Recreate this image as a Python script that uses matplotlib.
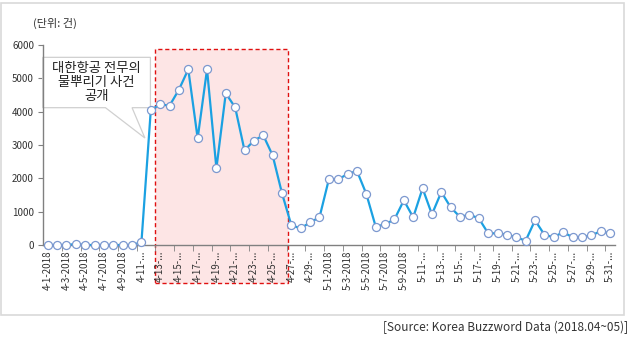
import matplotlib
matplotlib.use('Agg')
import matplotlib.pyplot as plt
from matplotlib.patches import Rectangle, Polygon

plt.rcParams['font.family'] = ['Noto Sans CJK KR', 'DejaVu Sans']

# daily buzz counts, 2018-04-01 .. 2018-05-31
april = [0, 0, 0, 30, 0, 0, 0, 0, 0, 0,
         80, 4050, 4220, 4180, 4660, 5270, 3200, 5270, 2300, 4550,
         4130, 2840, 3130, 3290, 2690, 1550, 590, 500, 680, 830]
may = [1970, 1970, 2130, 2220, 1530, 550, 620, 770, 1340, 830,
       1700, 920, 1590, 1130, 840, 910, 800, 350, 350, 310,
       230, 130, 740, 310, 230, 390, 230, 230, 290, 410, 350]
values = april + may

tick_labels = ['4-1-2018', '4-3-2018', '4-5-2018', '4-7-2018', '4-9-2018',
               '4-11-...', '4-13-...', '4-15-...', '4-17-...', '4-19-...',
               '4-21-...', '4-23-...', '4-25-...', '4-27-...', '4-29-...',
               '5-1-2018', '5-3-2018', '5-5-2018', '5-7-2018', '5-9-2018',
               '5-11-...', '5-13-...', '5-15-...', '5-17-...', '5-19-...',
               '5-21-...', '5-23-...', '5-25-...', '5-27-...', '5-29-...',
               '5-31-...']

callout_text = '대한항공 전무의\n물뿌리기 사건\n공개'
unit_text = '(단위: 건)'
source_text = '[Source: Korea Buzzword Data (2018.04~05)]'

x = list(range(len(values)))

fig = plt.figure(figsize=(6.3, 3.42), dpi=100)
ax = fig.add_axes([0.0683, 0.2836, 0.9074, 0.5848])

# outer frame
fig.patches.append(Rectangle((0.002, 1 - 315 / 342), 623 / 630, 312 / 342,
                             transform=fig.transFigure, fill=False,
                             edgecolor='#d9d9d9', linewidth=1.2))

# highlighted period
ax.add_patch(Rectangle((11.42, -1150), 25.69 - 11.42, 5870 + 1150,
                       facecolor='#fde5e5', edgecolor='#e01010',
                       linestyle=(0, (3, 2)), linewidth=1.0,
                       clip_on=False, zorder=0))

ax.plot(x, values, color='#1ba1e2', linewidth=1.6, marker='o',
        markersize=5.8, markerfacecolor='white', markeredgecolor='#7c98cf',
        markeredgewidth=0.9, zorder=3, clip_on=False)

# callout box with pointer
ax.add_patch(Polygon([(-0.53, 5630), (10.96, 5630), (10.96, 4120), (9.0, 4120),
                      (10.37, 3210), (6.16, 4120), (-0.53, 4120)],
                     closed=True, facecolor='white', edgecolor='#d0d0d0',
                     linewidth=0.9, clip_on=False, zorder=2))
ax.text(5.2, 4880, callout_text, ha='center', va='center', fontsize=9.6,
        linespacing=1.0, color='#222222', zorder=4)

ax.set_xlim(-0.5, len(values) - 0.5)
ax.set_ylim(0, 6000)
ax.set_yticks(range(0, 6001, 1000))
ax.tick_params(axis='y', labelsize=7, length=3.5, color='#808080',
               labelcolor='#333333', pad=3)

ax.set_xticks(x[::2])
ax.set_xticklabels(tick_labels, rotation=90, fontsize=7, color='#333333')
ax.set_xticks([i + 0.5 for i in range(1, len(values) - 1, 2)], minor=True)
ax.tick_params(axis='x', which='major', length=0, pad=4)
ax.tick_params(axis='x', which='minor', length=4, color='#808080')

for side in ['top', 'right']:
    ax.spines[side].set_visible(False)
for side in ['left', 'bottom']:
    ax.spines[side].set_color('#808080')
    ax.spines[side].set_linewidth(1.0)

fig.text(33 / 630, 1 - 23 / 342, unit_text, fontsize=8, color='#333333',
         ha='left', va='center')
fig.text(628 / 630, 1 - 327 / 342, source_text, fontsize=8.5, color='#333333',
         ha='right', va='center')

fig.savefig('out.png', dpi=100)
